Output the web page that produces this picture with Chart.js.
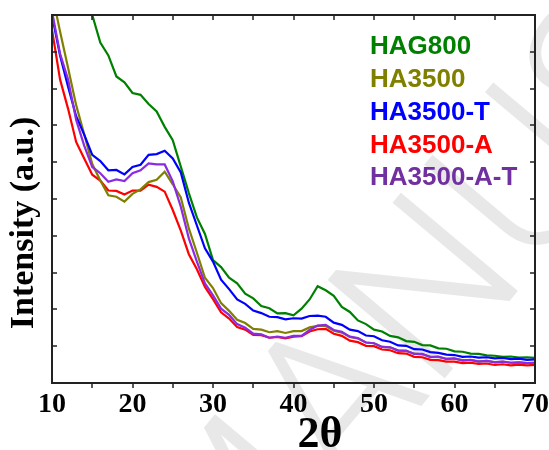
<!DOCTYPE html>
<html>
<head>
<meta charset="utf-8">
<script src="https://cdn.jsdelivr.net/npm/chart.js@4.4.1/dist/chart.umd.min.js"></script>
<style>
    html, body { margin: 0; padding: 0; background: #fff; overflow: hidden; }
    #wrap { position: relative; width: 549px; height: 450px; }
    #wrap canvas { display: block; position: absolute; left: 0; top: 0; }
    #frame { pointer-events: none; z-index: 2; }
</style>
</head>
<body>
<div id="wrap">
    <canvas id="xrd" width="549" height="450"></canvas>
    <canvas id="frame" width="549" height="450"></canvas>
</div>
<script>
/* ==========================
   DATA
========================== */
const twoTheta = [10,11,12,13,14,15,16,17,18,19,20,21,22,23,24,25,26,27,28,29,30,
    31,32,33,34,35,36,37,38,39,40,41,42,43,44,45,46,47,48,49,50,
    51,52,53,54,55,56,57,58,59,60,61,62,63,64,65,66,67,68,69,70];

const hag800 = [12.6,12.0,11.4,10.9,10.4,10.0,9.25,8.9,8.33,8.17,7.88,7.83,7.58,7.38,6.96,6.6,5.88,5.16,4.5,4.05,3.34,
    3.15,2.86,2.71,2.43,2.3,2.09,2.03,1.89,1.9,1.84,2.02,2.27,2.63,2.52,2.37,2.07,1.93,1.7,1.6,1.45,
    1.4,1.28,1.24,1.14,1.12,1.03,1.02,0.94,0.93,0.86,0.85,0.8,0.79,0.75,0.74,0.71,0.72,0.69,0.7,0.68];

const ha3500 = [10.6,9.55,8.56,7.55,6.76,5.95,5.5,5.1,5.06,4.93,5.14,5.26,5.46,5.52,5.74,5.4,5.04,4.2,3.54,2.86,2.58,
    2.17,1.96,1.72,1.63,1.47,1.45,1.38,1.41,1.36,1.41,1.41,1.51,1.55,1.55,1.42,1.37,1.25,1.21,1.1,1.08,
    0.98,0.97,0.88,0.87,0.8,0.78,0.72,0.71,0.66,0.66,0.62,0.62,0.59,0.6,0.57,0.58,0.55,0.56,0.54,0.55];

const ha3500T = [10.0,8.9,8.05,7.25,6.75,6.2,6.03,5.78,5.79,5.67,5.87,5.93,6.2,6.22,6.31,6.1,5.72,4.9,4.28,3.66,3.3,
    2.81,2.55,2.27,2.15,1.97,1.9,1.8,1.79,1.73,1.76,1.75,1.82,1.83,1.8,1.64,1.58,1.45,1.41,1.29,1.27,
    1.16,1.12,1.02,1.01,0.92,0.91,0.84,0.82,0.77,0.76,0.71,0.72,0.69,0.7,0.67,0.68,0.65,0.66,0.63,0.64];

const ha3500A = [9.6,8.25,7.45,6.55,6.1,5.66,5.5,5.23,5.22,5.12,5.23,5.23,5.39,5.33,5.2,4.7,4.14,3.5,3.09,2.61,2.28,
    1.92,1.75,1.52,1.45,1.31,1.3,1.23,1.25,1.21,1.26,1.27,1.4,1.46,1.47,1.34,1.28,1.15,1.11,1.01,1.0,
    0.91,0.89,0.81,0.8,0.71,0.7,0.63,0.62,0.58,0.58,0.54,0.55,0.52,0.53,0.49,0.51,0.48,0.5,0.48,0.49];

const ha3500AT = [10.1,8.95,8.25,7.15,6.45,5.87,5.7,5.47,5.53,5.49,5.7,5.78,5.97,5.94,5.94,5.48,4.79,3.93,3.3,2.71,2.38,
    2.02,1.85,1.6,1.5,1.34,1.32,1.23,1.26,1.23,1.28,1.28,1.44,1.56,1.58,1.44,1.39,1.26,1.22,1.1,1.08,
    0.98,0.97,0.88,0.88,0.79,0.79,0.7,0.72,0.65,0.67,0.61,0.63,0.58,0.6,0.56,0.58,0.55,0.56,0.54,0.55];

const xTicks = [10,20,30,40,50,60,70];
const xMinor = [15,20,25,30,35,40,45,50,55,60,65];
const yMinor = [1,2,3,4,5,6,7,8,9];
const names  = ["HAG800","HA3500","HA3500-T","HA3500-A","HA3500-A-T"];
const lineColors = ["#008000","#808000","#0000ff","#ff0000","#8a2be2"];
const textColors = ["#008000","#808000","#0000ff","#ff0000","#7030a0"];

const pts = ys => twoTheta.map((x,i) => ({x:x, y:ys[i]}));
const series = [hag800, ha3500, ha3500T, ha3500A, ha3500AT];

/* ==========================
   PLUGINS
========================== */
// faint watermark behind everything
const watermark = {
    id: "watermark",
    beforeDraw(chart){
        const c = chart.ctx;
        c.save();
        c.translate(225, 640);
        c.rotate(-50 * Math.PI / 180);
        c.font = "300 215px Roboto";
        c.fillStyle = "#e8e8e8";
        c.textBaseline = "alphabetic";
        c.fillText("MANUSCRIPT", 0, 0);
        c.restore();
    }
};

// axis titles and the text legend
const labels = {
    id: "labels",
    afterDraw(chart){
        const c = chart.ctx;
        c.save();
        c.fillStyle = "#000";
        c.textAlign = "center";
        c.font = "bold 44px 'Liberation Serif'";
        c.textBaseline = "alphabetic";
        c.fillText("2θ", 320, 447);

        c.translate(24, 223);
        c.rotate(-Math.PI / 2);
        c.font = "bold 34px 'Liberation Serif'";
        c.textBaseline = "middle";
        c.fillText("Intensity (a.u.)", 0, 0);
        c.setTransform(1, 0, 0, 1, 0, 0);

        c.font = "bold 26px 'Liberation Sans'";
        c.textBaseline = "middle";
        c.textAlign = "left";
        names.forEach((n,i) => {
            c.fillStyle = textColors[i];
            c.fillText(n, 370, 47 + i * 32.8);
        });
        c.restore();
    }
};

/* ==========================
   CHART
========================== */
// draw order: first dataset ends up on top
const order = [4, 2, 0, 1, 3];

const chart = new Chart(document.getElementById("xrd"), {
    type: "line",
    data: {
        datasets: order.map(i => ({
            label: names[i],
            data: pts(series[i]),
            borderColor: lineColors[i],
            borderWidth: 2.2,
            pointRadius: 0,
            tension: 0,
            fill: false
        }))
    },
    options: {
        responsive: false,
        animation: false,
        layout: { padding: { top: 15, right: 14, left: 0, bottom: 0 } },
        plugins: { legend: { display: false }, tooltip: { enabled: false } },
        scales: {
            x: {
                type: "linear",
                min: 10, max: 70,
                afterBuildTicks: s => { s.ticks = xTicks.map(v => ({value: v})); },
                afterFit: s => { s.height = 67; s.paddingLeft = 0; s.paddingRight = 0; },
                grid: { display: false },
                border: { display: false },
                ticks: {
                    color: "#000",
                    padding: -3,
                    maxRotation: 0,
                    font: { family: "'Liberation Serif'", size: 28, weight: "bold" }
                }
            },
            y: {
                min: 0, max: 10,
                afterFit: s => { s.width = 52; s.paddingTop = 0; s.paddingBottom = 0; },
                grid: { display: false },
                border: { display: false },
                ticks: { display: false }
            }
        }
    },
    plugins: [watermark, labels]
});

/* ==========================
   FRAME (overlay, from the chart's scales)
========================== */
const f = document.getElementById("frame").getContext("2d");
const xs = chart.scales.x, ys = chart.scales.y;
const L = Math.round(xs.getPixelForValue(10)), R = Math.round(xs.getPixelForValue(70));
const T = Math.round(ys.getPixelForValue(10)), B = Math.round(ys.getPixelForValue(0));

f.fillStyle = "#222";
f.fillRect(L - 1, T - 1, R - L + 2, 2);   // top
f.fillRect(L - 1, B - 1, R - L + 2, 2);   // bottom
f.fillRect(L - 1, T - 1, 2, B - T + 2);   // left
f.fillRect(R - 1, T - 1, 2, B - T + 2);   // right
xMinor.forEach(v => {
    const px = Math.round(xs.getPixelForValue(v));
    f.fillRect(px - 0.75, B, 1.5, 5);
    f.fillRect(px - 0.75, T, 1.5, 5);
});
yMinor.forEach(v => {
    const py = Math.round(ys.getPixelForValue(v));
    f.fillRect(L, py - 0.75, 5, 1.5);
    f.fillRect(R - 5, py - 0.75, 5, 1.5);
});
</script>
</body>
</html>
